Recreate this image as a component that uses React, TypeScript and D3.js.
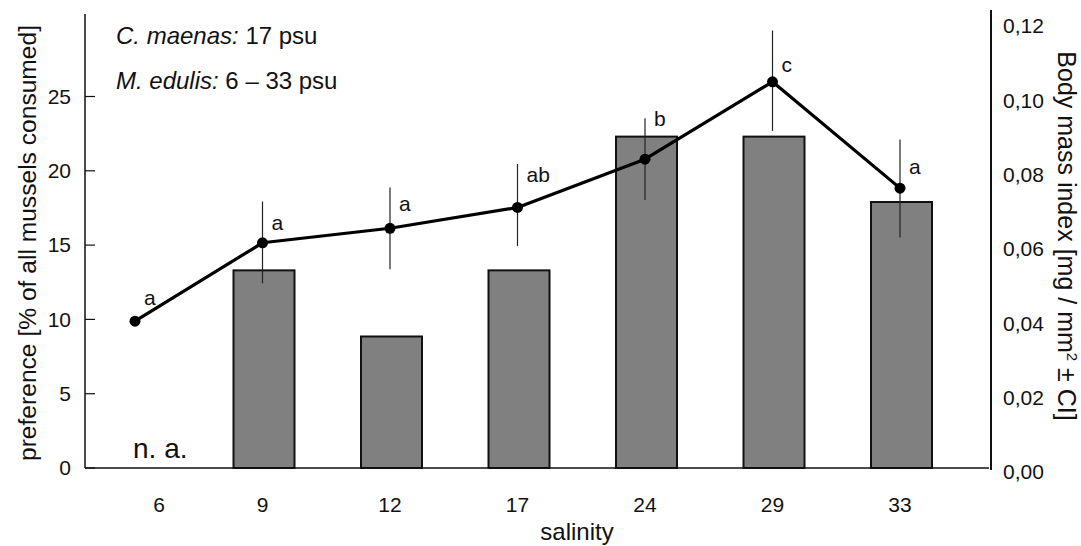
import React from "react";
import * as d3 from "d3";

const categories = ["6", "9", "12", "17", "24", "29", "33"];
// preference [% of all mussels consumed]; null = not available
const preference: (number | null)[] = [null, 13.3, 8.85, 13.3, 22.3, 22.3, 17.9];
// body mass index [mg / mm²]
const bmi = [0.0395, 0.0606, 0.0645, 0.0701, 0.0831, 0.1039, 0.0753];
const ciLow: (number | null)[] = [null, 0.0497, 0.0535, 0.0597, 0.0721, 0.0907, 0.062];
const ciHigh: (number | null)[] = [null, 0.0717, 0.0755, 0.0818, 0.0941, 0.1177, 0.0884];
const letters = ["a", "a", "a", "ab", "b", "c", "a"];
const letterLevel = [0.0457, 0.066, 0.0712, 0.0788, 0.0939, 0.1084, 0.081];
const leftTicks = [0, 5, 10, 15, 20, 25];
const rightTicks = [0, 0.02, 0.04, 0.06, 0.08, 0.1, 0.12];

const W = 1081;
const H = 546;
const FONT = "'Liberation Sans', Arial, Helvetica, sans-serif";

export default function App() {
  const x = d3.scalePoint<string>().domain(categories).range([135, 900]);
  const yL = d3.scaleLinear().domain([0, 25]).range([468, 96.5]);
  const yR = d3.scaleLinear().domain([0, 0.12]).range([468, 22]);
  const fmtR = (v: number) => d3.format(".2f")(v).replace(".", ",");
  const barW = 61;

  const line = d3
    .line<number>()
    .x((_, i) => x(categories[i]) as number)
    .y((d) => yR(d));

  return (
    <div style={{ position: "absolute", left: 0, top: 0 }}>
      <svg width={W} height={H} style={{ display: "block", background: "#fff" }} fontFamily={FONT}>
        {/* bars */}
        {preference.map((v, i) =>
          v == null ? null : (
            <rect
              key={"b" + i}
              x={(x(categories[i]) as number) - barW / 2 + 1.5}
              y={yL(v)}
              width={barW}
              height={yL(0) - yL(v)}
              fill="#808080"
              stroke="#111"
              strokeWidth={2}
            />
          )
        )}

        {/* axes */}
        <line x1={85} x2={85} y1={14} y2={468} stroke="#111" strokeWidth={1.5} />
        <line x1={85} x2={989} y1={468} y2={468} stroke="#111" strokeWidth={1.5} />
        <line x1={991} x2={991} y1={10} y2={470} stroke="#111" strokeWidth={2} />

        {leftTicks.map((t) => (
          <g key={"lt" + t}>
            <line x1={85} x2={95} y1={yL(t)} y2={yL(t)} stroke="#111" strokeWidth={1.2} />
            <text x={71} y={yL(t)} dy="0.35em" textAnchor="end" fontSize={21} fill="#111">
              {t}
            </text>
          </g>
        ))}
        {rightTicks.map((t) => (
          <text key={"rt" + t} x={1003} y={yR(t) + 4} dy="0.35em" fontSize={21} fill="#111">
            {fmtR(t)}
          </text>
        ))}
        {categories.map((c, i) => (
          <text
            key={"xt" + c}
            x={(x(c) as number) + (i === 0 ? 24 : 0)}
            y={512}
            textAnchor="middle"
            fontSize={21}
            fill="#111"
          >
            {c}
          </text>
        ))}

        {/* axis titles */}
        <text x={577} y={540} textAnchor="middle" fontSize={24} fill="#111">
          salinity
        </text>
        <text
          transform={`translate(36,243) rotate(-90)`}
          textAnchor="middle"
          fontSize={24.6}
          fill="#111"
        >
          preference [% of all mussels consumed]
        </text>
        <text
          transform={`translate(1058,236) rotate(90)`}
          textAnchor="middle"
          fontSize={25}
          fill="#111"
        >
          Body mass index [mg / mm<tspan fontSize={15} dy={-9}>2</tspan>
          <tspan dy={9}> ± CI]</tspan>
        </text>

        {/* error bars */}
        {bmi.map((v, i) =>
          ciLow[i] == null ? null : (
            <line
              key={"e" + i}
              x1={x(categories[i]) as number}
              x2={x(categories[i]) as number}
              y1={yR(ciLow[i] as number)}
              y2={yR(ciHigh[i] as number)}
              stroke="#222"
              strokeWidth={1.2}
            />
          )
        )}

        {/* line */}
        <path d={line(bmi) as string} fill="none" stroke="#000" strokeWidth={3.2} strokeLinejoin="round" />
        {bmi.map((v, i) => (
          <circle key={"p" + i} cx={x(categories[i]) as number} cy={yR(v)} r={5.5} fill="#000" />
        ))}

        {/* significance letters */}
        {letters.map((l, i) => (
          <text
            key={"l" + i}
            x={(x(categories[i]) as number) + 9}
            y={yR(letterLevel[i])}
            dy="0.35em"
            fontSize={21}
            fill="#111"
          >
            {l}
          </text>
        ))}

        {/* annotations */}
        <text x={116} y={44} fontSize={24} fill="#111">
          <tspan fontStyle="italic">C. maenas:</tspan> 17 psu
        </text>
        <text x={116} y={89} fontSize={24} fill="#111">
          <tspan fontStyle="italic">M. edulis:</tspan> 6 – 33 psu
        </text>
        <text x={133} y={458} fontSize={28} fill="#111">
          n. a.
        </text>
      </svg>
    </div>
  );
}
